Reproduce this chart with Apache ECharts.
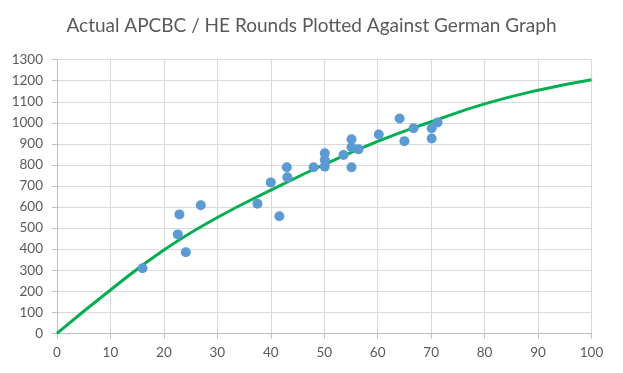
<!DOCTYPE html>
<html>
<head>
<meta charset="utf-8">
<script src="https://cdn.jsdelivr.net/npm/echarts@6/dist/echarts.min.js"></script>
<style>html,body{margin:0;padding:0;background:#fff}#c{width:623px;height:373px}</style>
</head>
<body>
<div id="c"></div>
<script>
const titleText = 'Actual APCBC / HE Rounds Plotted Against German Graph';
// Actual rounds (scatter)
const roundsX = [16.0, 22.6, 22.9, 24.1, 26.9, 37.5, 41.6, 40.0, 43.0, 43.1, 48.0, 50.1, 50.1, 50.1, 53.6, 55.1, 55.1, 55.1, 56.4, 60.2, 64.1, 65.0, 66.7, 70.1, 70.1, 71.2];
const roundsY = [309, 470, 565, 385, 608, 616, 556, 717, 789, 741, 789, 855, 823, 792, 847, 922, 884, 789, 874, 945, 1021, 913, 974, 974, 926, 1002];
// German graph (curve)
const germanX = [0, 10, 20, 30, 40, 50, 60, 70, 80, 90, 100];
const germanY = [0, 206, 396, 550, 680, 802, 912, 1005, 1090, 1155, 1205];
// Axis ticks
const xTicks = [0, 10, 20, 30, 40, 50, 60, 70, 80, 90, 100];
const yTicks = [0, 100, 200, 300, 400, 500, 600, 700, 800, 900, 1000, 1100, 1200, 1300];

const FONT = 'Lato, "Open Sans", sans-serif';
const chart = echarts.init(document.getElementById('c'), null, {renderer: 'canvas'});
chart.setOption({
  animation: false,
  backgroundColor: '#ffffff',
  title: {
    text: titleText, left: 'center', top: 11,
    textStyle: {fontFamily: FONT, fontSize: 19, fontWeight: 'normal', color: '#595959'}
  },
  grid: {left: 57, right: 31.5, top: 59.7, bottom: 39.7, containLabel: false},
  xAxis: {
    type: 'value', min: xTicks[0], max: xTicks[xTicks.length - 1], interval: 10,
    axisLine: {show: true, lineStyle: {color: '#bfbfbf', width: 1}},
    axisTick: {show: true, length: 5, lineStyle: {color: '#bfbfbf'}},
    splitLine: {show: true, lineStyle: {color: '#d9d9d9', width: 1}},
    axisLabel: {fontFamily: FONT, fontSize: 13.5, color: '#595959', margin: 12, formatter: v => String(v)}
  },
  yAxis: {
    type: 'value', min: yTicks[0], max: yTicks[yTicks.length - 1], interval: 100,
    axisLine: {show: true, lineStyle: {color: '#bfbfbf', width: 1}},
    axisTick: {show: true, length: 5, lineStyle: {color: '#bfbfbf'}},
    splitLine: {show: true, lineStyle: {color: '#d9d9d9', width: 1}},
    axisLabel: {fontFamily: FONT, fontSize: 13.5, color: '#595959', margin: 14, formatter: v => String(v)}
  },
  series: [
    {
      type: 'line', name: 'German Graph', smooth: true, showSymbol: false, z: 2,
      data: germanX.map((x, i) => [x, germanY[i]]),
      lineStyle: {color: '#00b050', width: 3}, itemStyle: {color: '#00b050'}
    },
    {
      type: 'scatter', name: 'Actual', symbolSize: 10, z: 3,
      data: roundsX.map((x, i) => [x, roundsY[i]]),
      itemStyle: {color: '#5b9bd5', opacity: 1}
    }
  ]
});
</script>
</body>
</html>
